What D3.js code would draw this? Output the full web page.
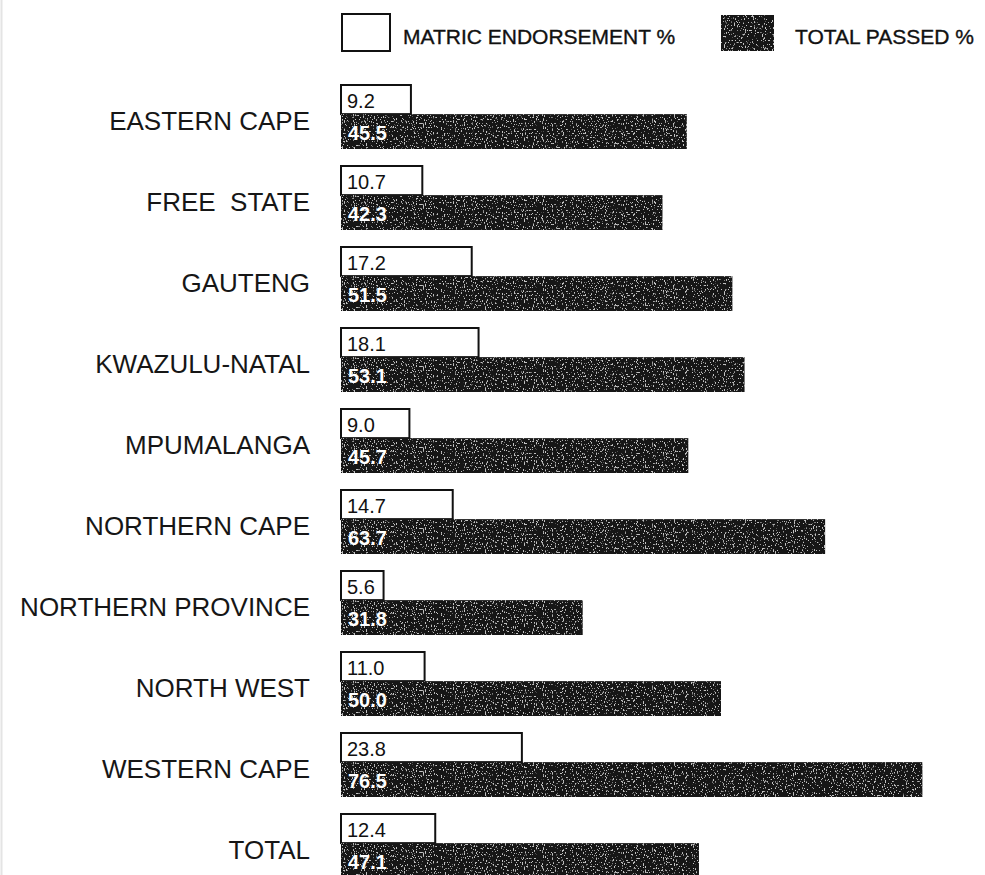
<!DOCTYPE html>
<html>
<head>
<meta charset="utf-8">
<script src="https://cdn.jsdelivr.net/npm/d3@7"></script>
<style>
  html, body { margin: 0; padding: 0; background: #fff; }
  svg { display: block; }
  text { font-family: "Liberation Sans", Arial, sans-serif; white-space: pre; }
</style>
</head>
<body>
<script>
// Provinces, top to bottom
const provinces = [
  "EASTERN CAPE", "FREE  STATE", "GAUTENG", "KWAZULU-NATAL", "MPUMALANGA",
  "NORTHERN CAPE", "NORTHERN PROVINCE", "NORTH WEST", "WESTERN CAPE", "TOTAL"
];
// Matric endorsement rate (%)
const endorsement = [9.2, 10.7, 17.2, 18.1, 9.0, 14.7, 5.6, 11.0, 23.8, 12.4];
// Total pass rate (%)
const passed = [45.5, 42.3, 51.5, 53.1, 45.7, 63.7, 31.8, 50.0, 76.5, 47.1];
// Legend entries
const seriesNames = ["MATRIC ENDORSEMENT %", "TOTAL PASSED %"];

const W = 985, H = 875;
const svg = d3.select("body").append("svg")
  .attr("width", W).attr("height", H);

// Speckled dark fill for the pass-rate bars
const defs = svg.append("defs");
const grain = defs.append("filter").attr("id", "grain")
  .attr("x", 0).attr("y", 0).attr("width", 1).attr("height", 1);
grain.append("feTurbulence").attr("type", "fractalNoise")
  .attr("baseFrequency", "0.9 0.5").attr("numOctaves", 2).attr("seed", 3)
  .attr("result", "noise");
grain.append("feColorMatrix").attr("in", "noise").attr("type", "matrix")
  .attr("values", "0 0 0 0 0.55  0 0 0 0 0.55  0 0 0 0 0.55  0 0 0 12 -7.4")
  .attr("result", "specks");
grain.append("feComposite").attr("in", "specks").attr("in2", "SourceGraphic")
  .attr("operator", "in").attr("result", "clipped");
const merge = grain.append("feMerge");
merge.append("feMergeNode").attr("in", "SourceGraphic");
merge.append("feMergeNode").attr("in", "clipped");

// Scales
const x = d3.scaleLinear().domain([0, 80]).range([341, 341 + 80 * 7.6]);
const y = d3.scaleBand().domain(provinces).range([85, 878])
  .paddingInner(17 / 81).paddingOuter(0);
const whiteH = y.bandwidth() * 0.455;
const darkH = y.bandwidth() - whiteH;

// Faint scan edge on the left
svg.append("line").attr("x1", 1.5).attr("x2", 1.5).attr("y1", 0).attr("y2", H)
  .attr("stroke", "#e4e4e4").attr("stroke-width", 2);

// Legend
const legend = svg.append("g");
legend.append("rect").attr("x", 342).attr("y", 14).attr("width", 48).attr("height", 37)
  .attr("fill", "#fff").attr("stroke", "#111").attr("stroke-width", 2);
legend.append("text").attr("x", 403).attr("y", 36).attr("dy", "0.36em")
  .attr("font-size", 21).attr("fill", "#111")
  .attr("stroke", "#111").attr("stroke-width", 0.35)
  .text(seriesNames[0]);
legend.append("rect").attr("x", 721).attr("y", 15).attr("width", 53).attr("height", 36)
  .attr("fill", "#161616").attr("filter", "url(#grain)");
legend.append("text").attr("x", 795).attr("y", 36).attr("dy", "0.36em")
  .attr("font-size", 21).attr("fill", "#111")
  .attr("stroke", "#111").attr("stroke-width", 0.35)
  .text(seriesNames[1]);

// Category labels
svg.append("g").selectAll("text").data(provinces).join("text")
  .attr("x", 310)
  .attr("y", d => y(d) + 36)
  .attr("dy", "0.36em")
  .attr("text-anchor", "end")
  .attr("font-size", 26)
  .attr("fill", "#161616")
  .text(d => d);

const rows = svg.append("g").selectAll("g").data(provinces).join("g")
  .attr("transform", d => `translate(0,${y(d)})`);

// Endorsement bars (white, outlined)
rows.append("rect")
  .attr("x", x(0))
  .attr("y", 0)
  .attr("width", (d, i) => x(endorsement[i]) - x(0))
  .attr("height", whiteH)
  .attr("fill", "#fff")
  .attr("stroke", "#111")
  .attr("stroke-width", 2);

// Pass-rate bars (dark, speckled)
rows.append("rect")
  .attr("x", x(0))
  .attr("y", whiteH)
  .attr("width", (d, i) => x(passed[i]) - x(0))
  .attr("height", darkH)
  .attr("fill", "#161616")
  .attr("filter", "url(#grain)");

// Value labels
rows.append("text")
  .attr("x", x(0) + 6)
  .attr("y", whiteH / 2 + 1)
  .attr("dy", "0.36em")
  .attr("font-size", 20)
  .attr("fill", "#111")
  .text((d, i) => endorsement[i].toFixed(1));

rows.append("text")
  .attr("x", x(0) + 7)
  .attr("y", whiteH + darkH / 2 + 1)
  .attr("dy", "0.36em")
  .attr("font-size", 20)
  .attr("font-weight", "bold")
  .attr("fill", "#fff")
  .text((d, i) => passed[i].toFixed(1));
</script>
</body>
</html>
